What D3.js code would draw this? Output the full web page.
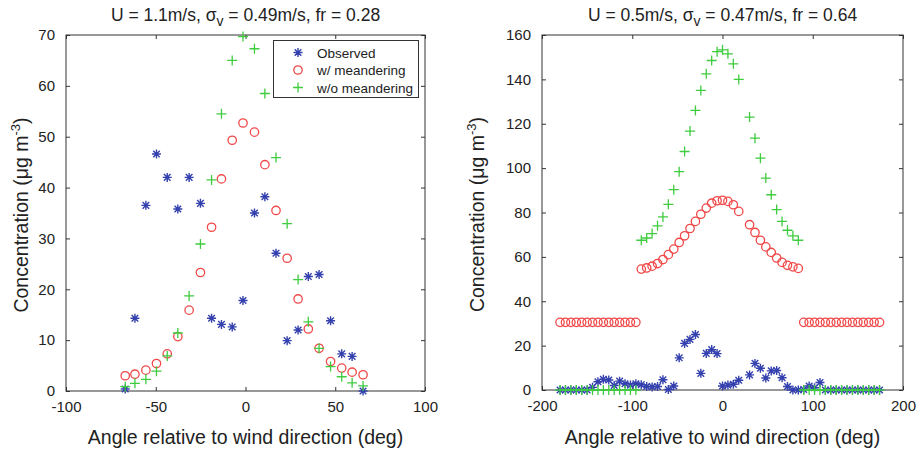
<!DOCTYPE html>
<html><head><meta charset="utf-8">
<script src="https://cdn.jsdelivr.net/npm/d3@7"></script>
<style>
html,body{margin:0;padding:0;background:#fff;}
svg text{font-family:"Liberation Sans",Arial,sans-serif;fill:#222;}
</style></head>
<body><svg id="c" width="921" height="450"></svg>
<script>
// ---------- DATA ----------
const leftTitle = ["U = 1.1m/s, σ", "v", " = 0.49m/s, fr = 0.28"];
const rightTitle = ["U = 0.5m/s, σ", "v", " = 0.47m/s, fr = 0.64"];
const seriesNames = ["Observed", "w/ meandering", "w/o meandering"];
const leftXTicks = [-100, -50, 0, 50, 100];
const leftYTicks = [0, 10, 20, 30, 40, 50, 60, 70];
const rightXTicks = [-200, -100, 0, 100, 200];
const rightYTicks = [0, 20, 40, 60, 80, 100, 120, 140, 160];

const leftAngles = [-67, -61.6, -55.5, -49.6, -43.6, -37.7, -31.4, -25.1, -18.9, -13.4, -7.4, -1.4, 5, 10.8, 17, 23.2, 29.3, 35, 41, 47.4, 53.6, 59.4, 65.5];
const leftObserved = [0.4, 14.3, 36.5, 46.6, 42.0, 35.8, 42.0, 36.9, 14.3, 13.1, 12.6, 17.8, 35.0, 38.2, 27.1, 9.9, 12.0, 22.5, 22.9, 13.8, 7.3, 6.8, 0];
const leftWithMeander = [3.0, 3.3, 4.1, 5.4, 7.3, 10.7, 15.9, 23.3, 32.2, 41.7, 49.3, 52.7, 50.9, 44.5, 35.5, 26.1, 18.1, 12.2, 8.4, 5.8, 4.5, 3.7, 3.2];
const leftWithoutMeander = [0.85, 1.5, 2.3, 3.9, 6.9, 11.4, 18.7, 28.9, 41.5, 54.5, 65, 69.7, 67.3, 58.5, 45.9, 32.9, 21.9, 13.6, 8.4, 4.8, 2.8, 1.6, 1.0];

const rightAngles = [-180, -174, -168, -162, -156, -150, -144, -138, -132, -126, -120, -114, -108, -102, -96,
  -90, -84, -78, -72, -66, -60, -54, -48, -42, -36, -30, -24, -18, -12, -6, 0, 6, 12, 18, 30, 36, 42, 48, 54, 60, 66, 72, 78, 84,
  90, 96, 102, 108, 114, 120, 126, 132, 138, 144, 150, 156, 162, 168, 174];
const rightObserved = [0, 0, 0, 0, 0, 0, 1.2, 3.7, 4.8, 4.5, 2.0, 4.0, 2.8, 2.2, 2.8,
  2.4, 1.6, 1.4, 1.6, 4.6, 0.2, 1.8, 14.5, 21, 22.8, 25, 7.5, 16.5, 18.2, 16.4, 1.8, 2.2, 2.6, 4.4, 6.8, 12, 9.8, 5.4, 8.6, 8.8, 5.5, 1.6, 0, 0,
  0.2, 1.8, 1.0, 3.4, 0, 0, 0, 0, 0, 0, 0, 0, 0, 0, 0];
const rightWithMeander = [30.5, 30.5, 30.5, 30.5, 30.5, 30.5, 30.5, 30.5, 30.5, 30.5, 30.5, 30.5, 30.5, 30.5, 30.5,
  54.5, 55, 55.8, 57, 58.8, 61, 63.5, 66.5, 69.5, 72.8, 76, 79.2, 82, 84.2, 85.3, 85.5, 85, 83.5, 80.5, 74.5, 71, 67.5, 64.5, 62, 59.5, 57.5, 56.2, 55.5, 54.8,
  30.5, 30.5, 30.5, 30.5, 30.5, 30.5, 30.5, 30.5, 30.5, 30.5, 30.5, 30.5, 30.5, 30.5, 30.5];
const rightWithoutMeander = [0, 0, 0, 0, 0, 0, 0, 0, 0, 0, 0, 0, 0, 0, 0,
  67.5, 68.5, 70.5, 74, 78, 83.7, 90.3, 98.4, 107.5, 116.7, 126, 135, 142.5, 148.5, 152.5, 153.3, 151.5, 147, 140, 123, 113.5, 104.5, 95.5, 88, 81.3, 76, 72, 69.5, 67.5,
  0, 0, 0, 0, 0, 0, 0, 0, 0, 0, 0, 0, 0, 0, 0];

// ---------- STYLE ----------
const BLUE = "#3340ad", RED = "#f04848", GREEN = "#3fcc3f", AX = "#333";
const svg = d3.select("#c");

function star(g, x, y) {
  const s = 4.5, d = 3.3;
  g.append("path").attr("d", `M${x-s},${y}H${x+s}M${x},${y-s}V${y+s}M${x-d},${y-d}L${x+d},${y+d}M${x-d},${y+d}L${x+d},${y-d}`)
    .attr("stroke", BLUE).attr("stroke-width", 1.4).attr("fill", "none");
}
function plus(g, x, y) {
  const s = 5;
  g.append("path").attr("d", `M${x-s},${y}H${x+s}M${x},${y-s}V${y+s}`)
    .attr("stroke", GREEN).attr("stroke-width", 1.3).attr("fill", "none");
}
function circ(g, x, y) {
  g.append("circle").attr("cx", x).attr("cy", y).attr("r", 4.2)
    .attr("stroke", RED).attr("stroke-width", 1.3).attr("fill", "none");
}
const fmt = d => String(d);

function panel(opt) {
  const x = d3.scaleLinear().domain(opt.xd).range([opt.x0, opt.x1]);
  const y = d3.scaleLinear().domain(opt.yd).range([opt.y0, opt.y1]);
  const g = svg.append("g");
  const mk = (axis, tr, labels) => {
    const a = g.append("g").attr("transform", tr).call(axis);
    a.select(".domain").remove();
    a.selectAll("line").attr("stroke", AX);
    if (!labels) a.selectAll("text").remove();
    else a.selectAll("text").attr("font-size", 15).attr("fill", "#222");
    return a;
  };
  const bx = mk(d3.axisBottom(x).tickValues(opt.xt).tickSize(-4).tickPadding(12).tickFormat(fmt), `translate(0,${opt.y0})`, true);
  mk(d3.axisTop(x).tickValues(opt.xt).tickSize(-4), `translate(0,${opt.y1})`, false);
  mk(d3.axisLeft(y).tickValues(opt.yt).tickSize(-4).tickPadding(11).tickFormat(fmt), `translate(${opt.x0},0)`, true);
  mk(d3.axisRight(y).tickValues(opt.yt).tickSize(-4), `translate(${opt.x1},0)`, false);
  bx.selectAll("text").attr("dy", "0.6em");
  g.append("rect").attr("x", opt.x0).attr("y", opt.y1).attr("width", opt.x1 - opt.x0).attr("height", opt.y0 - opt.y1)
    .attr("fill", "none").attr("stroke", AX).attr("stroke-width", 1);

  const pg = g.append("g");
  opt.obs.forEach((v, i) => star(pg, x(opt.ang[i]), y(v)));
  opt.wm.forEach((v, i) => circ(pg, x(opt.ang[i]), y(v)));
  opt.wo.forEach((v, i) => plus(pg, x(opt.ang[i]), y(v)));

  const cx = (opt.x0 + opt.x1) / 2;
  const t = svg.append("text").attr("x", cx).attr("y", 21).attr("text-anchor", "middle").attr("font-size", 17.5);
  t.append("tspan").text(opt.title[0]);
  t.append("tspan").attr("dy", 5).attr("font-size", 14).text(opt.title[1]);
  t.append("tspan").attr("dy", -5).text(opt.title[2]);
  svg.append("text").attr("x", cx).attr("y", 444).attr("text-anchor", "middle").attr("font-size", 19.5)
    .text("Angle relative to wind direction (deg)");
  const yl = svg.append("text").attr("transform", `translate(${opt.yl},${(opt.y0 + opt.y1) / 2 + 2}) rotate(-90)`)
    .attr("text-anchor", "middle").attr("font-size", 19.5);
  yl.append("tspan").text("Concentration (μg m");
  yl.append("tspan").attr("dy", -8).attr("font-size", 13).text("-3");
  yl.append("tspan").attr("dy", 8).text(")");
  return {x, y, g};
}

panel({xd: [-100, 100], yd: [0, 70], x0: 66, x1: 425, y0: 391, y1: 35, xt: leftXTicks, yt: leftYTicks,
  ang: leftAngles, obs: leftObserved, wm: leftWithMeander, wo: leftWithoutMeander, title: leftTitle, yl: 28});
panel({xd: [-200, 200], yd: [0, 160], x0: 542, x1: 903, y0: 390, y1: 35, xt: rightXTicks, yt: rightYTicks,
  ang: rightAngles, obs: rightObserved, wm: rightWithMeander, wo: rightWithoutMeander, title: rightTitle, yl: 484});

const lg = svg.append("g");
lg.append("rect").attr("x", 273.5).attr("y", 40.5).attr("width", 145).attr("height", 57)
  .attr("fill", "#fff").attr("stroke", AX).attr("stroke-width", 1);
const ly = [52.5, 70, 87.5];
star(lg, 298, ly[0]); circ(lg, 298, ly[1]); plus(lg, 298, ly[2]);
seriesNames.forEach((n, i) => lg.append("text").attr("x", 317).attr("y", ly[i] + 5).attr("font-size", 13.5).text(n));
</script></body></html>
